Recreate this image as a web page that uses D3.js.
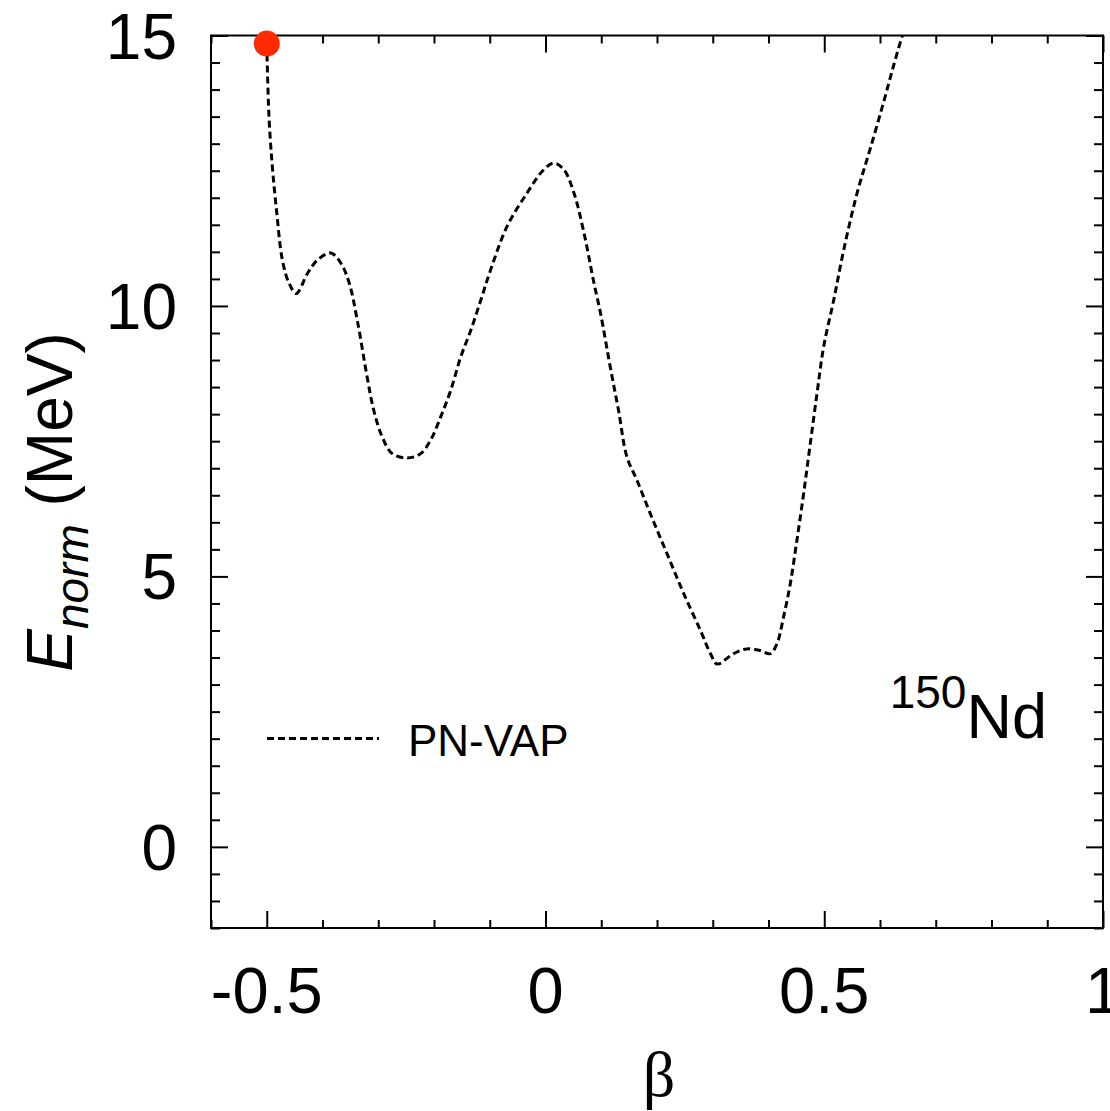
<!DOCTYPE html>
<html><head><meta charset="utf-8">
<script src="https://cdn.jsdelivr.net/npm/d3@7"></script>
<style>html,body{margin:0;padding:0;background:#fff;}svg{display:block;}</style>
</head><body>
<svg id="chart" width="1110" height="1111"></svg>
<script>
// ---- data ----
const betaValues = [-0.5, -0.496, -0.490, -0.482, -0.472, -0.460, -0.447, -0.427, -0.409, -0.385, -0.367, -0.352, -0.337, -0.320, -0.308, -0.293, -0.275, -0.248, -0.224, -0.206, -0.188, -0.170, -0.152, -0.134, -0.116, -0.099, -0.069, -0.033, -0.003, 0.015, 0.033, 0.051, 0.069, 0.087, 0.099, 0.116, 0.131, 0.146, 0.164, 0.188, 0.218, 0.248, 0.278, 0.296, 0.308, 0.337, 0.361, 0.385, 0.403, 0.415, 0.427, 0.439, 0.451, 0.463, 0.475, 0.487, 0.499, 0.517, 0.535, 0.559, 0.582, 0.606, 0.624, 0.640];
const energyValues = [14.85, 13.5, 12.58, 11.72, 10.85, 10.42, 10.23, 10.6, 10.85, 10.98, 10.79, 10.42, 9.7, 8.69, 8.07, 7.58, 7.27, 7.19, 7.27, 7.52, 7.95, 8.44, 9.06, 9.55, 10.11, 10.65, 11.47, 12.09, 12.52, 12.64, 12.52, 12.09, 11.35, 10.42, 9.85, 8.88, 8.07, 7.21, 6.78, 6.16, 5.42, 4.68, 4.0, 3.57, 3.38, 3.57, 3.66, 3.63, 3.57, 3.75, 4.25, 4.86, 5.67, 6.53, 7.46, 8.38, 9.25, 10.11, 11.04, 12.09, 12.89, 13.75, 14.43, 15.0];
const markerBeta = [-0.5];
const markerEnergy = [14.85];
const xMajorTicks = [-0.5, 0, 0.5, 1];
const xTickLabels = ["-0.5", "0", "0.5", "1"];
const yMajorTicks = [0, 5, 10, 15];
const yTickLabels = ["0", "5", "10", "15"];
const seriesName = "PN-VAP";

// ---- layout ----
const svg = d3.select("#chart");
const L = 211, R = 1103, T = 35.5, B = 928;
const x = d3.scaleLinear().domain([-0.6, 1.0]).range([L, R]);
const y = d3.scaleLinear().domain([-1.5, 15]).range([B, T]);
const font = "'Liberation Sans', Arial, Helvetica, sans-serif";

svg.append("defs").append("clipPath").attr("id", "clip")
  .append("rect").attr("x", L).attr("y", T).attr("width", R - L).attr("height", B - T);

const xMinor = d3.range(-6, 11).map(i => i / 10).filter(v => !xMajorTicks.some(m => Math.abs(m - v) < 1e-9));
const yMinor = d3.range(-3, 31).map(i => i / 2).filter(v => !yMajorTicks.some(m => Math.abs(m - v) < 1e-9));

function axisGroup(axisFn, scale, ticks, size, transform) {
  const g = svg.append("g").attr("transform", transform)
    .call(axisFn(scale).tickValues(ticks).tickSize(size).tickFormat(""));
  g.select(".domain").remove();
  g.selectAll(".tick line").attr("stroke", "#000").attr("stroke-width", 2);
  return g;
}
// inward ticks on all four sides
axisGroup(d3.axisTop, x, xMajorTicks, 17, `translate(0,${B})`);
axisGroup(d3.axisTop, x, xMinor, 8, `translate(0,${B})`);
axisGroup(d3.axisBottom, x, xMajorTicks, 17, `translate(0,${T})`);
axisGroup(d3.axisBottom, x, xMinor, 8, `translate(0,${T})`);
axisGroup(d3.axisRight, y, yMajorTicks, 17, `translate(${L},0)`);
axisGroup(d3.axisRight, y, yMinor, 9, `translate(${L},0)`);
axisGroup(d3.axisLeft, y, yMajorTicks, 17, `translate(${R},0)`);
axisGroup(d3.axisLeft, y, yMinor, 9, `translate(${R},0)`);

// frame
svg.append("rect").attr("x", L).attr("y", T).attr("width", R - L).attr("height", B - T)
  .attr("fill", "none").attr("stroke", "#000").attr("stroke-width", 2);

// tick labels
svg.append("g").selectAll("text").data(xMajorTicks).join("text")
  .attr("x", d => x(d)).attr("y", 1013)
  .attr("text-anchor", "middle").attr("font-family", font).attr("font-size", 65)
  .attr("fill", "#000").text((d, i) => xTickLabels[i]);
svg.append("g").selectAll("text").data(yMajorTicks).join("text")
  .attr("x", 177).attr("y", d => y(d) + 23)
  .attr("text-anchor", "end").attr("font-family", font).attr("font-size", 64)
  .attr("fill", "#000").text((d, i) => yTickLabels[i]);

// axis titles
svg.append("text").attr("x", (L + R) / 2 + 2).attr("y", 1096)
  .attr("text-anchor", "middle").attr("font-family", "'Liberation Serif', 'Times New Roman', serif")
  .attr("font-size", 64).attr("fill", "#000").text("β");

const yt = svg.append("text").attr("transform", "translate(72,502) rotate(-90)")
  .attr("text-anchor", "middle").attr("font-family", font).attr("font-size", 64).attr("fill", "#000");
yt.append("tspan").attr("font-style", "italic").text("E");
yt.append("tspan").attr("font-style", "italic").attr("font-size", 46).attr("dy", 16).text("norm");
yt.append("tspan").attr("dy", -16).text(" (MeV)");

// curve
const pts = betaValues.map((b, i) => [b, energyValues[i]]);
const line = d3.line().x(d => x(d[0])).y(d => y(d[1])).curve(d3.curveCatmullRom.alpha(0.5));
svg.append("path").attr("clip-path", "url(#clip)").attr("d", line(pts))
  .attr("fill", "none").attr("stroke", "#000").attr("stroke-width", 3)
  .attr("stroke-dasharray", "7,4");

// marker
svg.append("g").selectAll("circle").data(markerBeta).join("circle")
  .attr("cx", d => x(d)).attr("cy", (d, i) => y(markerEnergy[i])).attr("r", 13)
  .attr("fill", "#ff2a00");

// legend
svg.append("line").attr("x1", 267).attr("x2", 379).attr("y1", 738.5).attr("y2", 738.5)
  .attr("stroke", "#000").attr("stroke-width", 3).attr("stroke-dasharray", "7,4");
svg.append("text").attr("x", 408).attr("y", 756).attr("font-family", font).attr("font-size", 44)
  .attr("fill", "#000").text(seriesName);

// nucleus label
const nl = svg.append("text").attr("x", 1047).attr("y", 738).attr("text-anchor", "end")
  .attr("font-family", font).attr("fill", "#000");
nl.append("tspan").attr("font-size", 46).attr("dy", -30).text("150");
nl.append("tspan").attr("font-size", 63).attr("dy", 30).text("Nd");
</script>
</body></html>
